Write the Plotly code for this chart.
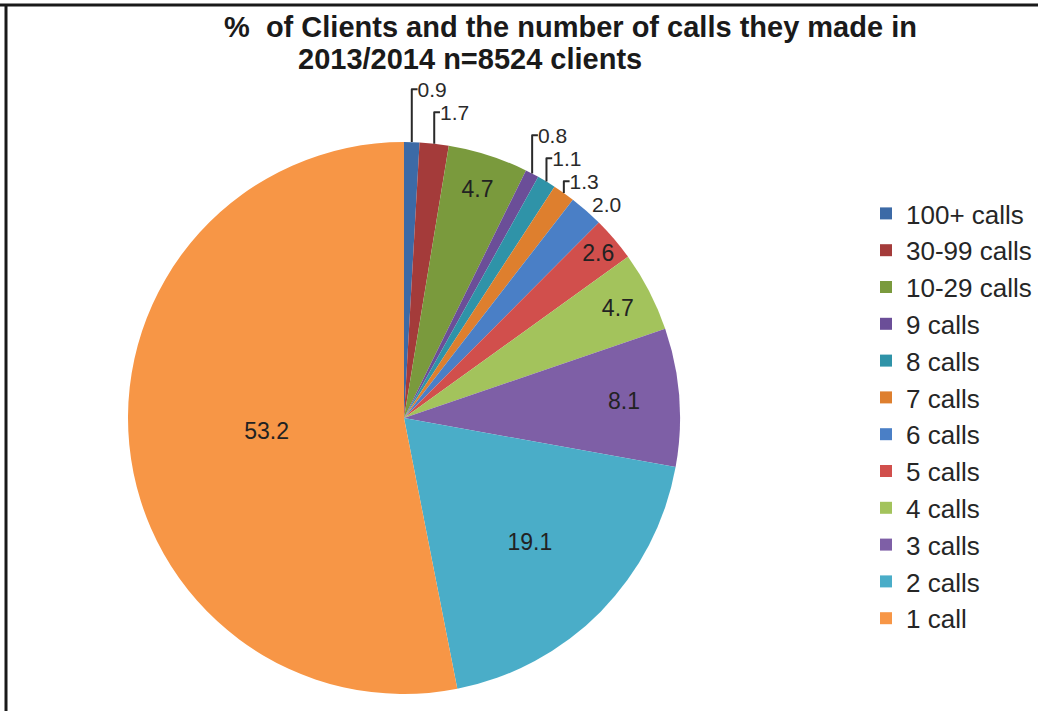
import plotly.graph_objects as go

# Share of clients by number of calls made, 2013/2014
categories = ["100+ calls", "30-99 calls", "10-29 calls", "9 calls", "8 calls",
              "7 calls", "6 calls", "5 calls", "4 calls", "3 calls", "2 calls", "1 call"]
percent = [0.9, 1.7, 4.7, 0.8, 1.1, 1.3, 2.0, 2.6, 4.7, 8.1, 19.1, 53.2]
slice_colors = ["#3C6AA6", "#A43B3A", "#7A9A3D", "#6B4E98", "#2F93A8", "#DE7F2E",
                "#4A7FC6", "#D14F4C", "#A3C35C", "#7E5FA6", "#4AADC8", "#F79646"]
label_pos = ["outside", "outside", "inside", "outside", "outside", "outside",
             "outside", "inside", "inside", "inside", "inside", "inside"]

W, H = 1038, 711
FONT = "Liberation Sans, Arial, sans-serif"

fig = go.Figure(
    go.Pie(
        labels=categories,
        values=percent,
        text=[f"{v:.1f}" for v in percent],
        textinfo="text",
        textposition=label_pos,
        insidetextorientation="horizontal",
        insidetextfont=dict(family=FONT, size=23, color="#222222"),
        outsidetextfont=dict(family=FONT, size=21, color="#2a2a2a"),
        marker=dict(colors=slice_colors, line=dict(width=0)),
        sort=False,
        direction="clockwise",
        rotation=0,
        hoverinfo="label+value",
        domain=dict(x=[128 / W, 680 / W], y=[1 - 694 / H, 1 - 142 / H]),
    )
)

fig.update_layout(
    width=W,
    height=H,
    margin=dict(l=0, r=0, t=0, b=0),
    paper_bgcolor="white",
    plot_bgcolor="white",
    font=dict(family=FONT, color="#222222"),
    showlegend=True,
    legend=dict(
        x=866 / W, xanchor="left",
        y=1 - 190 / H, yanchor="top",
        font=dict(family=FONT, size=26, color="#262626"),
        itemwidth=30,
        bgcolor="rgba(0,0,0,0)",
    ),
    annotations=[
        dict(text="<b>%  of Clients and the number of calls they made in</b>",
             x=570 / W, y=1 - 27 / H, xref="paper", yref="paper",
             xanchor="center", yanchor="middle", showarrow=False,
             font=dict(family=FONT, size=29, color="#1a1a1a")),
        dict(text="<b>2013/2014 n=8524 clients</b>",
             x=470 / W, y=1 - 59 / H, xref="paper", yref="paper",
             xanchor="center", yanchor="middle", showarrow=False,
             font=dict(family=FONT, size=29, color="#1a1a1a")),
    ],
    shapes=[
        dict(type="line", xref="paper", yref="paper",
             x0=0, x1=1, y0=1 - 5 / H, y1=1 - 5 / H,
             line=dict(color="#1a1a1a", width=3)),
        dict(type="line", xref="paper", yref="paper",
             x0=6 / W, x1=6 / W, y0=0, y1=1 - 5 / H,
             line=dict(color="#1a1a1a", width=3)),
    ],
)

fig.write_html("out.html")
